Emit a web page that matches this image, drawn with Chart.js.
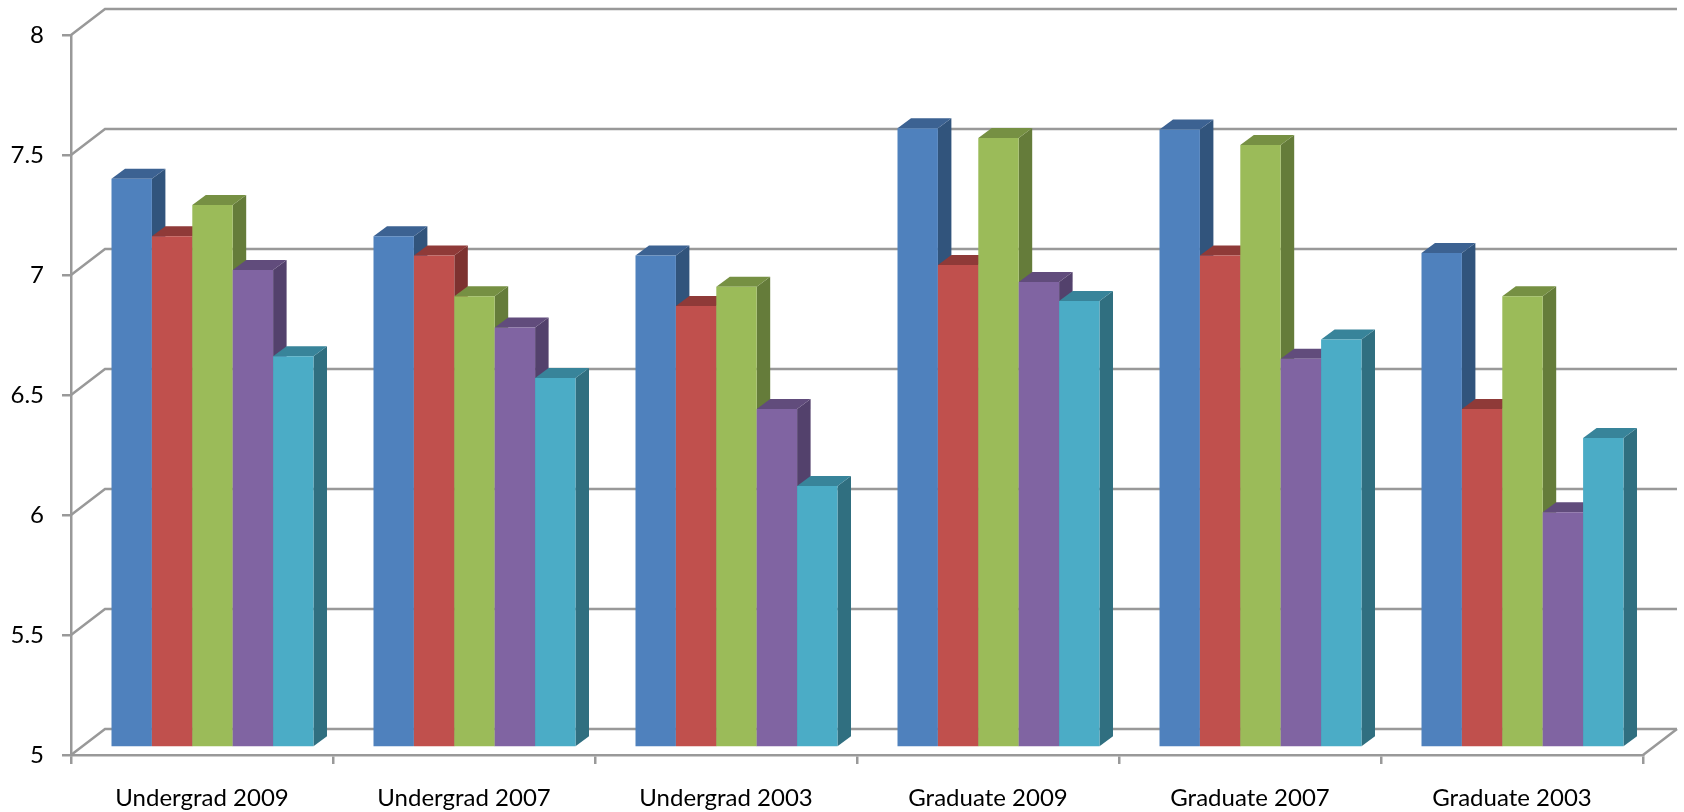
<!DOCTYPE html>
<html>
<head>
<meta charset="utf-8">
<title>Chart</title>
<script src="https://cdn.jsdelivr.net/npm/chart.js@4/dist/chart.umd.min.js"></script>
<style>
  html, body { margin: 0; padding: 0; background: #fff; }
  canvas { display: block; }
</style>
</head>
<body>
<canvas id="chart" width="1684" height="812"></canvas>
<script>
const categories = ['Undergrad 2009', 'Undergrad 2007', 'Undergrad 2003', 'Graduate 2009', 'Graduate 2007', 'Graduate 2003'];
const seriesA = [7.37, 7.13, 7.05, 7.58, 7.575, 7.06];
const seriesB = [7.13, 7.05, 6.84, 7.01, 7.05, 6.41];
const seriesC = [7.26, 6.88, 6.92, 7.54, 7.51, 6.88];
const seriesD = [6.99, 6.75, 6.41, 6.94, 6.62, 5.98];
const seriesE = [6.63, 6.54, 6.09, 6.86, 6.70, 6.29];
const yTickLabels = ['5', '5.5', '6', '6.5', '7', '7.5', '8'];

const frontColors = ['#4f81bd', '#c0504d', '#9bbb59', '#8064a2', '#4bacc6'];
const topColors = ['#3c6292', '#8f3a38', '#769043', '#614c7c', '#38849a'];
const sideColors = ['#31547c', '#7d3230', '#657c3a', '#53416c', '#306f80'];
const axisColor = '#999999';

// the box behind the bars
const wallDx = 34, wallDy = -26;
// bars stand a bit inside the box, and have a small depth
const barDx = 10.5, barDy = -7.5;
const depthDx = 13.5, depthDy = -10;

const fakeThreeD = {
  id: 'fakeThreeD',
  beforeDraw(chart) {
    const { ctx, chartArea: a, scales } = chart;
    ctx.save();
    ctx.strokeStyle = axisColor;
    ctx.lineWidth = 2.5;
    // walls: one line per y tick
    scales.y.ticks.forEach((t, i) => {
      const y = scales.y.getPixelForTick(i);
      ctx.beginPath();
      ctx.moveTo(a.left, y);
      ctx.lineTo(a.left + wallDx, y + wallDy);
      ctx.lineTo(a.right + wallDx, y + wallDy);
      ctx.stroke();
    });
    // floor, right edge
    ctx.beginPath();
    ctx.moveTo(a.right, a.bottom);
    ctx.lineTo(a.right + wallDx, a.bottom + wallDy);
    ctx.stroke();
    ctx.restore();
  },
  beforeDatasetsDraw(chart) {
    const ctx = chart.ctx;
    ctx.save();
    ctx.translate(barDx, barDy);
    // paint left to right so each bar covers the side of the one before it
    categories.forEach((c, idx) => {
      chart.data.datasets.forEach((ds, i) => {
        const bar = chart.getDatasetMeta(i).data[idx];
        const l = bar.x - bar.width / 2, r = bar.x + bar.width / 2;
        ctx.fillStyle = sideColors[i];
        ctx.beginPath();
        ctx.moveTo(r, bar.y);
        ctx.lineTo(r + depthDx, bar.y + depthDy);
        ctx.lineTo(r + depthDx, bar.base + depthDy);
        ctx.lineTo(r, bar.base);
        ctx.closePath();
        ctx.fill();
        ctx.fillStyle = topColors[i];
        ctx.beginPath();
        ctx.moveTo(l, bar.y);
        ctx.lineTo(l + depthDx, bar.y + depthDy);
        ctx.lineTo(r + depthDx, bar.y + depthDy);
        ctx.lineTo(r, bar.y);
        ctx.closePath();
        ctx.fill();
        bar.draw(ctx, chart.chartArea);
      });
    });
    ctx.restore();
    return false;
  }
};

new Chart(document.getElementById('chart'), {
  type: 'bar',
  data: {
    labels: categories,
    datasets: [seriesA, seriesB, seriesC, seriesD, seriesE].map((values, i) => ({
      data: values,
      base: 5,
      backgroundColor: frontColors[i],
      barPercentage: 1,
      categoryPercentage: 0.771
    }))
  },
  options: {
    responsive: false,
    animation: false,
    layout: { padding: { top: 35, right: 41 } },
    plugins: { legend: { display: false }, tooltip: { enabled: false } },
    scales: {
      x: {
        afterFit(s) { s.height = 57; },
        grid: { drawOnChartArea: false, color: axisColor, lineWidth: 2.5, tickLength: 9 },
        border: { color: axisColor, width: 2.5 },
        ticks: { color: '#000', font: { family: 'Lato', size: 24 }, padding: 20, maxRotation: 0 }
      },
      y: {
        min: 5,
        max: 8,
        afterFit(s) { s.width = 71; },
        grid: { drawOnChartArea: false, color: axisColor, lineWidth: 2.5, tickLength: 9 },
        border: { color: axisColor, width: 2.5 },
        ticks: {
          stepSize: 0.5,
          color: '#000',
          font: { family: 'Lato', size: 24 },
          padding: 18,
          callback: (v, i) => yTickLabels[i]
        }
      }
    }
  },
  plugins: [fakeThreeD]
});
</script>
</body>
</html>
